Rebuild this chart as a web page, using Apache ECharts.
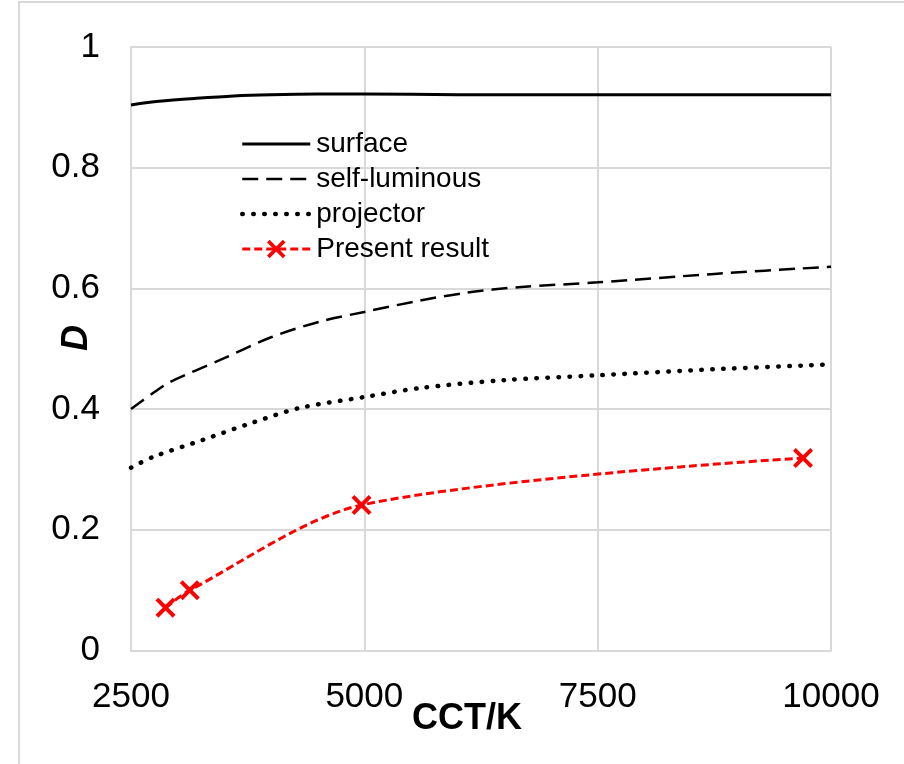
<!DOCTYPE html>
<html>
<head>
<meta charset="utf-8">
<script src="https://cdn.jsdelivr.net/npm/echarts@6/dist/echarts.min.js"></script>
<style>
html,body{margin:0;padding:0;background:#fff;}
#chart{width:904px;height:764px;}
</style>
</head>
<body>
<div id="chart"></div>
<script>
// ---- data ----
const seriesNames = ['surface', 'self-luminous', 'projector', 'Present result'];
const xTicks = [2500, 5000, 7500, 10000];
const yTicks = [0, 0.2, 0.4, 0.6, 0.8, 1];

const surfaceCCT = [2500, 2800, 3200, 3600, 4000, 4500, 5000, 6000, 7500, 10000];
const surfaceD   = [0.904, 0.910, 0.915, 0.919, 0.921, 0.922, 0.922, 0.921, 0.921, 0.921];

const selfLumCCT = [2500, 2740, 2920, 3450, 4000, 4525, 5000, 5600, 6100, 6650, 7500, 8750, 10000];
const selfLumD   = [0.400, 0.427, 0.445, 0.481, 0.519, 0.545, 0.561, 0.580, 0.593, 0.602, 0.610, 0.624, 0.636];

const projCCT = [2500, 2740, 3270, 3810, 4310, 5000, 5600, 6500, 7500, 8750, 10000];
const projD   = [0.303, 0.321, 0.349, 0.378, 0.402, 0.420, 0.435, 0.448, 0.456, 0.466, 0.474];

const presentCCT = [2870, 3130, 4970, 9700];
const presentD   = [0.071, 0.100, 0.241, 0.319];

function pairs(xs, ys) { return xs.map((x, i) => [x, ys[i]]); }

const FONT = "'Liberation Sans', Arial, sans-serif";
const GRID = '#D9D9D9';
const xMark = 'path://M0,1.4L1.4,0L5,3.6L8.6,0L10,1.4L6.4,5L10,8.6L8.6,10L5,6.4L1.4,10L0,8.6L3.6,5Z';

const styles = {
  surface: {color: '#000', width: 3, type: 'solid'},
  self: {color: '#000', width: 2.5, type: [16, 8]},
  proj: {color: '#000', width: 4.5, type: [0.5, 10.5], cap: 'round'},
  present: {color: '#FF0000', width: 3, type: [8, 4]}
};
const hidden = {color: 'rgba(0,0,0,0)', borderWidth: 0, opacity: 0};

const chart = echarts.init(document.getElementById('chart'), null, {renderer: 'canvas'});
chart.setOption({
  animation: false,
  backgroundColor: '#ffffff',
  grid: {left: 131, right: 73, top: 47, bottom: 113.5, containLabel: false},
  xAxis: {
    type: 'value', min: xTicks[0], max: xTicks[xTicks.length - 1], interval: 2500,
    axisLine: {show: true, lineStyle: {color: GRID, width: 2}},
    axisTick: {show: false},
    splitLine: {show: true, lineStyle: {color: GRID, width: 2}},
    axisLabel: {color: '#000', fontFamily: FONT, fontSize: 35, margin: 29, showMinLabel: true, showMaxLabel: true,
      formatter: v => String(v)}
  },
  yAxis: {
    type: 'value', min: yTicks[0], max: yTicks[yTicks.length - 1], interval: 0.2,
    axisLine: {show: true, lineStyle: {color: GRID, width: 2}},
    axisTick: {show: false},
    splitLine: {show: true, lineStyle: {color: GRID, width: 2}},
    axisLabel: {color: '#000', fontFamily: FONT, fontSize: 35, margin: 31, formatter: v => String(Math.round(v * 10) / 10)}
  },
  legend: {
    orient: 'vertical', left: 240, top: 130, padding: 0, itemWidth: 68, itemHeight: 23, itemGap: 7,
    textStyle: {fontFamily: FONT, fontSize: 28, color: '#000', padding: [0, 0, 0, 1]},
    data: [
      {name: seriesNames[0], itemStyle: hidden, lineStyle: styles.surface},
      {name: seriesNames[1], itemStyle: hidden, lineStyle: styles.self},
      {name: seriesNames[2], itemStyle: hidden, lineStyle: styles.proj},
      {name: seriesNames[3], lineStyle: styles.present}
    ]
  },
  graphic: [
    {type: 'rect', shape: {x: 19, y: 2, width: 1200, height: 1200}, style: {fill: 'none', stroke: GRID, lineWidth: 2}, silent: true, z: -1},
    {type: 'text', x: 467, y: 719, style: {text: 'CCT/K', font: "bold 36px 'Liberation Sans', Arial, sans-serif", fill: '#000', textAlign: 'center', textVerticalAlign: 'middle'}},
    {type: 'text', x: 77, y: 338, rotation: Math.PI / 2, style: {text: 'D', font: "italic bold 36px 'Liberation Sans', Arial, sans-serif", fill: '#000', textAlign: 'center', textVerticalAlign: 'middle'}}
  ],
  series: [
    {name: seriesNames[0], type: 'line', data: pairs(surfaceCCT, surfaceD), smooth: 0.3, symbol: 'none',
     lineStyle: styles.surface, itemStyle: {color: '#000'}},
    {name: seriesNames[1], type: 'line', data: pairs(selfLumCCT, selfLumD), smooth: 0.3, symbol: 'none',
     lineStyle: styles.self, itemStyle: {color: '#000'}},
    {name: seriesNames[2], type: 'line', data: pairs(projCCT, projD), smooth: 0.3, symbol: 'none',
     lineStyle: styles.proj, itemStyle: {color: '#000'}},
    {name: seriesNames[3], type: 'line', data: pairs(presentCCT, presentD), smooth: 0.3, symbol: xMark, symbolSize: 20,
     lineStyle: styles.present, itemStyle: {color: '#FF0000'}}
  ]
});
</script>
</body>
</html>
